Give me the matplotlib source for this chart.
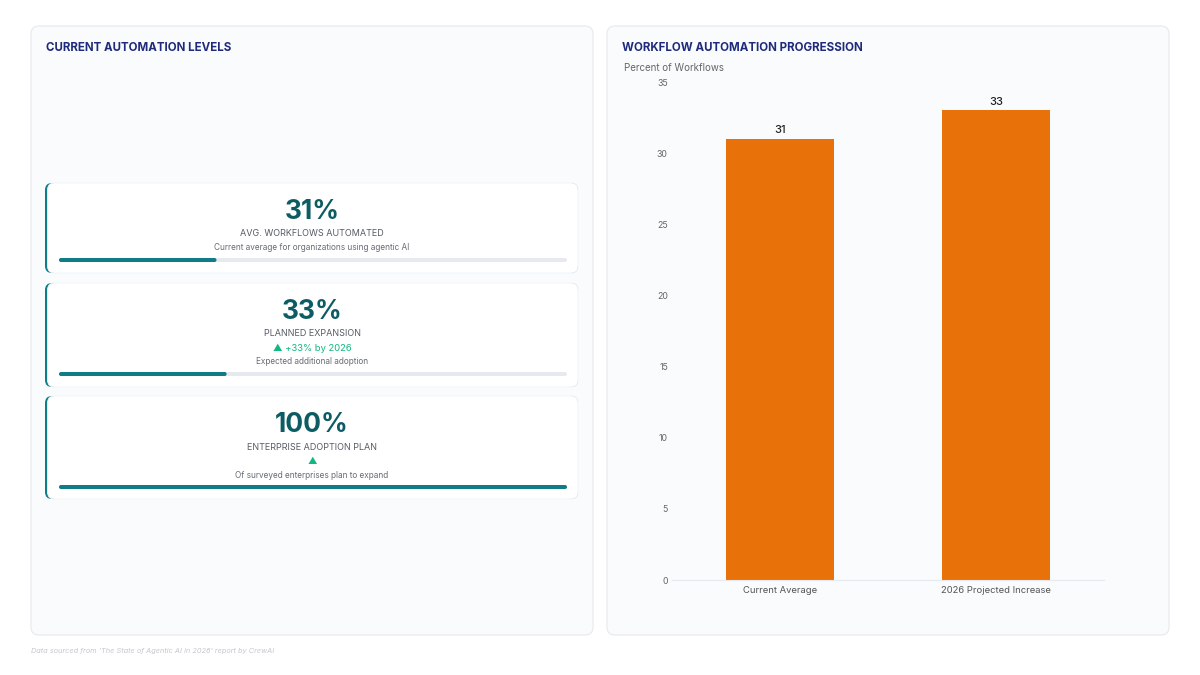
import matplotlib.pyplot as plt
from matplotlib.patches import FancyBboxPatch

plt.rcParams['font.family'] = ['Inter', 'DejaVu Sans']

# bar chart data
categories = ['Current Average', '2026 Projected Increase']
values = [31, 33]

# KPI cards
kpi_values = [31, 33, 100]
kpi_titles = ['AVG. WORKFLOWS AUTOMATED', 'PLANNED EXPANSION', 'ENTERPRISE ADOPTION PLAN']
kpi_trends = ['', '\u25b2 +33% by 2026', '\u25b2']
kpi_notes = ['Current average for organizations using agentic AI',
             'Expected additional adoption',
             'Of surveyed enterprises plan to expand']

navy = '#1f2a7a'
teal_dark = '#0d5c63'
teal = '#0f7c88'
orange = '#e8710a'
green = '#10b981'

fig = plt.figure(figsize=(12, 6.75), dpi=100, facecolor='white')

# background layer in pixel coords
bg = fig.add_axes([0, 0, 1, 1], zorder=0)
bg.set_xlim(0, 1200)
bg.set_ylim(675, 0)
bg.axis('off')

for x0 in (31, 607):
    bg.add_patch(FancyBboxPatch((x0, 26), 562, 609, boxstyle='round,pad=0,rounding_size=8',
                                fc='#f9fbfd', ec='#e6e9ee', lw=0.8))

bg.text(46, 48, 'CURRENT AUTOMATION LEVELS', fontsize=8.3, fontweight='bold', color=navy, va='center')
bg.text(622, 48, 'WORKFLOW AUTOMATION PROGRESSION', fontsize=8.3, fontweight='bold', color=navy, va='center')

# KPI cards
card_tops = [183, 283, 396]
card_heights = [90, 104, 103]
for i, v in enumerate(kpi_values):
    top = card_tops[i]
    h = card_heights[i]
    bg.add_patch(FancyBboxPatch((45, top), 533, h, boxstyle='round,pad=0,rounding_size=7',
                                fc=teal, ec='none'))
    bg.add_patch(FancyBboxPatch((47.5, top), 530.5, h, boxstyle='round,pad=0,rounding_size=7',
                                fc='white', ec='#f0f2f5', lw=0.6))
    cx = 312
    y = top + 29
    bg.text(cx, y, f'{v}%', fontsize=19, fontweight='bold', color=teal_dark, ha='center', va='center')
    y += 22
    bg.text(cx, y, kpi_titles[i], fontsize=6.5, color='#555b65', ha='center', va='center')
    if kpi_trends[i]:
        y += 14
        bg.text(cx, y, kpi_trends[i], fontsize=6.8, color=green, ha='center', va='center',
                family=['Inter', 'Liberation Sans', 'DejaVu Sans'])
    y += 14
    bg.text(cx, y, kpi_notes[i], fontsize=5.9, color='#666c75', ha='center', va='center')
    y += 12
    track_x, track_w = 59, 508
    bg.add_patch(FancyBboxPatch((track_x, y - 2), track_w, 4, boxstyle='round,pad=0,rounding_size=2',
                                fc='#e6e9ee', ec='none'))
    bg.add_patch(FancyBboxPatch((track_x, y - 2), track_w * v / 100, 4,
                                boxstyle='round,pad=0,rounding_size=2', fc=teal, ec='none'))

bg.text(31, 651, "Data sourced from 'The State of Agentic AI in 2026' report by CrewAI",
        fontsize=5.3, style='italic', color='#c3c7ce', va='center')

# bar chart
ax = fig.add_axes([0.56, 0.1407, 0.36, 0.7378], zorder=1)
ax.set_facecolor('none')
ax.bar(range(len(categories)), values, width=0.5, color=orange, zorder=2)
for i, v in enumerate(values):
    ax.text(i, v + 0.25, str(v), ha='center', va='bottom', fontsize=8, color='#222', fontweight='medium')
ax.set_xlim(-0.5, 1.5)
ax.set_ylim(0, 35)
ax.set_yticks(range(0, 36, 5))
ax.set_xticks(range(len(categories)))
ax.set_xticklabels(categories)
ax.tick_params(axis='y', length=0, labelsize=6.3, labelcolor='#666', pad=3)
ax.tick_params(axis='x', length=0, labelsize=6.8, labelcolor='#555', pad=4)
for s in ('top', 'right', 'left'):
    ax.spines[s].set_visible(False)
ax.spines['bottom'].set_color('#e6e9ee')
ax.spines['bottom'].set_linewidth(0.8)
bg.text(624, 68, 'Percent of Workflows', fontsize=7.0, color='#666', va='center')

fig.savefig('out.png', dpi=100, facecolor='white')
